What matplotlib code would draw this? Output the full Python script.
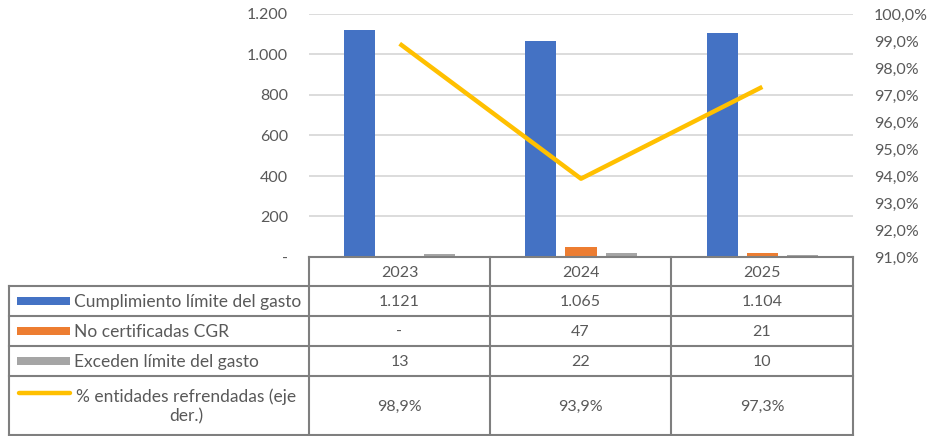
import matplotlib.pyplot as plt
import numpy as np

plt.rcParams['font.family'] = ['Lato', 'DejaVu Sans']

years = ['2023', '2024', '2025']
cumplimiento = [1121, 1065, 1104]
no_certificadas = [0, 47, 21]
exceden = [13, 22, 10]
pct_refrendadas = [0.989, 0.939, 0.973]

series_names = ['Cumplimiento límite del gasto', 'No certificadas CGR',
                'Exceden límite del gasto', '% entidades refrendadas (eje\nder.)']
colores = ['#4472C4', '#ED7D31', '#A5A5A5', '#FFC000']
gris_txt = '#595959'
gris_borde = '#7F7F7F'

W, H = 928, 436
fig = plt.figure(figsize=(W / 100, H / 100), dpi=100)

# plot area in pixels
x0, x1 = 309, 853
y_top, y_base = 14, 257
ax = fig.add_axes([x0 / W, 1 - y_base / H, (x1 - x0) / W, (y_base - y_top) / H])
ax2 = ax.twinx()

x = np.arange(len(years))
ancho = 0.171
desp = 0.221
for i, (vals, c) in enumerate(zip([cumplimiento, no_certificadas, exceden], colores[:3])):
    ax.bar(x + (i - 1) * desp, vals, width=ancho, color=c, zorder=3)

ax.set_xlim(-0.5, 2.5)
ax.set_ylim(0, 1200)
ax.set_yticks(range(0, 1201, 200))
ax.set_yticklabels(['-' if v == 0 else f'{v:,}'.replace(',', '.') for v in range(0, 1201, 200)])
ax.set_xticks([])
for v in range(200, 1201, 200):
    ax.axhline(v, color='#D9D9D9', lw=1.3, zorder=1)

ax2.plot(x, pct_refrendadas, color=colores[3], lw=3.2, solid_capstyle='butt', zorder=4)
ax2.set_ylim(0.91, 1.0)
ticks_der = np.arange(91, 100.5, 1) / 100
ax2.set_yticks(ticks_der)
ax2.set_yticklabels([f'{t * 100:.1f}%'.replace('.', ',') for t in ticks_der])

for a in (ax, ax2):
    for s in a.spines.values():
        s.set_visible(False)
    a.tick_params(length=0, labelsize=11.5, labelcolor=gris_txt)
ax.tick_params(axis='y', pad=15)
ax2.tick_params(axis='y', pad=15)
ax2.set_zorder(ax.get_zorder() + 1)
ax2.patch.set_visible(False)

# data table below the plot area
tb = fig.add_axes([0, 0, 1, 1])
tb.set_xlim(0, W)
tb.set_ylim(H, 0)
tb.axis('off')

col_edges = [x0, 490, 671, x1]
row_edges = [257, 286, 316, 346, 376, 435]
x_left = 9
lw = 1.5
tb.plot([x0, x1], [row_edges[0]] * 2, color=gris_borde, lw=lw)
for ry in row_edges[1:]:
    tb.plot([x_left, x1], [ry, ry], color=gris_borde, lw=lw)
for cx in col_edges:
    tb.plot([cx, cx], [row_edges[0], row_edges[-1]], color=gris_borde, lw=lw)
tb.plot([x_left, x_left], [row_edges[1], row_edges[-1]], color=gris_borde, lw=lw)

centros = [(col_edges[i] + col_edges[i + 1]) / 2 for i in range(3)]
yh = (row_edges[0] + row_edges[1]) / 2
for cx, yr in zip(centros, years):
    tb.text(cx, yh + 1, yr, ha='center', va='center', fontsize=11.5, color=gris_txt)

def fmt_n(v):
    return '-' if v == 0 else f'{v:,}'.replace(',', '.')

filas = [[fmt_n(v) for v in cumplimiento],
         [fmt_n(v) for v in no_certificadas],
         [fmt_n(v) for v in exceden],
         [f'{v * 100:.1f}%'.replace('.', ',') for v in pct_refrendadas]]

for r in range(4):
    ya, yb = row_edges[r + 1], row_edges[r + 2]
    yc = (ya + yb) / 2
    if r < 3:
        tb.add_patch(plt.Rectangle((17, yc - 4), 53, 8, color=colores[r], lw=0))
        tb.text(74, yc + 1, series_names[r], ha='left', va='center', fontsize=12.5, color=gris_txt)
    else:
        tb.plot([19, 70], [ya + 17, ya + 17], color=colores[r], lw=3.2, solid_capstyle='round')
        tb.text(186, yc + 1, series_names[r], ha='center', va='center', fontsize=12.5,
                color=gris_txt, multialignment='center', linespacing=1.2)
    for cx, val in zip(centros, filas[r]):
        tb.text(cx, yc + 1, val, ha='center', va='center', fontsize=11.5, color=gris_txt)

fig.savefig('out.png', dpi=100)
